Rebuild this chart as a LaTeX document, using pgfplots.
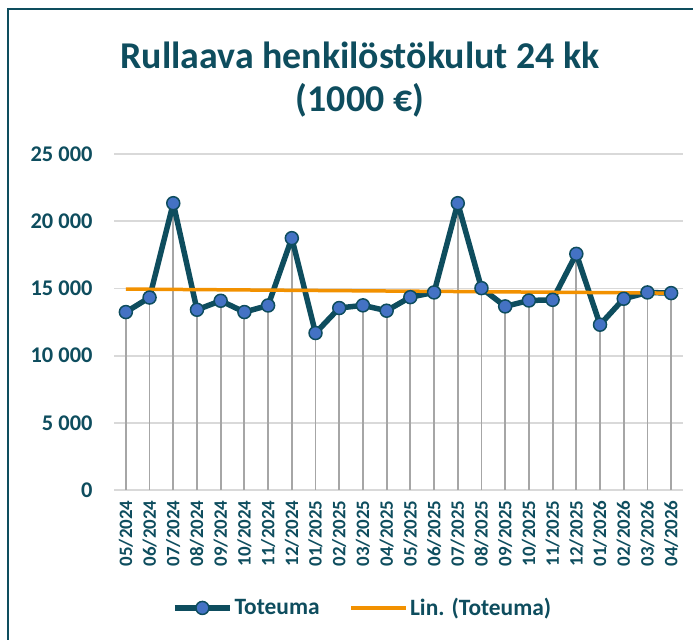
\documentclass[border=0pt]{standalone}
\usepackage{pgfplots}
\pgfplotsset{compat=1.18}
\usepackage{pgfplotstable}
\usepackage{fontspec}
\setmainfont{Carlito}
\definecolor{teal}{HTML}{0E4D5E}
\definecolor{mblue}{HTML}{4472C4}
\definecolor{orng}{HTML}{F29100}
\definecolor{grd}{HTML}{D9D9D9}
\definecolor{drop}{HTML}{A6A6A6}
\pgfplotstableread{
x y
0 13240
1 14320
2 21340
3 13410
4 14080
5 13240
6 13730
7 18740
8 11680
9 13540
10 13740
11 13340
12 14350
13 14700
14 21340
15 15020
16 13660
17 14100
18 14150
19 17570
20 12300
21 14230
22 14700
23 14650
}\data
\pgfplotstableread{
x y
0 14950
23 14650
}\trend
\begin{document}
\begin{tikzpicture}
\useasboundingbox (0,0) rectangle (693bp,-640bp);
\draw[line width=2.5bp, teal] (8bp,-641bp) -- (8bp,-9bp) -- (694bp,-9bp);
\node[font=\bfseries\fontsize{38}{44}\selectfont, text=teal, align=center] at (360bp,-55bp) {Rullaava henkilöstökulut 24 kk};
\node[font=\bfseries\fontsize{38}{44}\selectfont, text=teal, align=center] at (360bp,-100bp) {(1000 €)};
\begin{axis}[
  at={(114bp,-490bp)}, anchor=south west,
  scale only axis, width=569bp, height=336bp,
  xmin=-0.5, xmax=23.5, ymin=0, ymax=25000,
  ytick={0,5000,10000,15000,20000,25000},
  xtick={0,...,23},
  xticklabels={05/2024,06/2024,07/2024,08/2024,09/2024,10/2024,11/2024,12/2024,01/2025,02/2025,03/2025,04/2025,05/2025,06/2025,07/2025,08/2025,09/2025,10/2025,11/2025,12/2025,01/2026,02/2026,03/2026,04/2026},
  axis line style={draw=none},
  major tick length=0pt,
  ymajorgrids, grid style={grd, line width=1.8bp},
  scaled y ticks=false,
  /pgf/number format/.cd, 1000 sep={\ }, assume math mode=true,
  /pgfplots/.cd,
  yticklabel style={font=\bfseries\fontsize{22.5}{26}\selectfont, text=teal, xshift=-18bp},
  xticklabel style={font=\bfseries\fontsize{19}{22}\selectfont, text=teal, rotate=90, anchor=east, xshift=-7bp},
  legend style={at={(0.437,-0.351)}, anchor=center, draw=none, fill=none,
    font=\bfseries\fontsize{23.5}{26}\selectfont, text=teal, legend columns=2,
    /tikz/every even column/.append style={column sep=28bp},
    /tikz/every odd column/.append style={column sep=0bp},
    inner sep=0pt},
  legend image code/.code={\draw[#1] (0bp,0bp) -- (55bp,0bp); \draw[#1, only marks] plot coordinates {(27.5bp,0bp)};},
  clip=false,
]
\addplot[ycomb, drop, line width=1.8bp, forget plot] table[x=x,y=y] {\data};
\addplot[teal, line width=5.5bp, line join=round, mark=*, mark size=6.5bp, mark options={fill=mblue, draw=teal, line width=1.5bp}] table[x=x,y=y] {\data};
\addlegendentry{Toteuma}
\addplot[orng, line width=3.5bp, mark=none] table[x=x,y=y] {\trend};
\addlegendentry{Lin. (Toteuma)}
\end{axis}
\end{tikzpicture}
\end{document}
